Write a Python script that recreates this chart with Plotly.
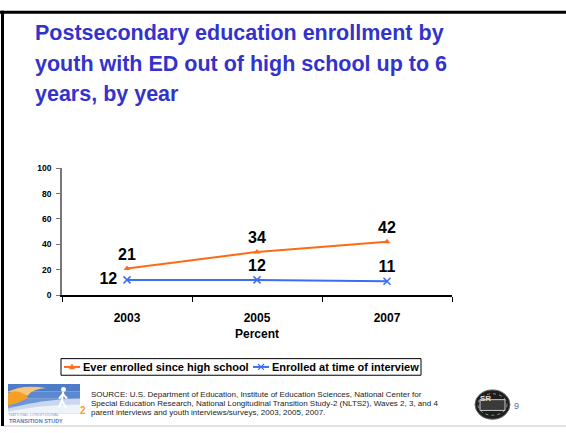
import plotly.graph_objects as go

# Chart data
years = ["2003", "2005", "2007"]
ever_enrolled = [21, 34, 42]
enrolled_now = [12, 12, 11]
y_ticks = [0, 20, 40, 60, 80, 100]
series_names = ["Ever enrolled since high school", "Enrolled at time of interview"]
title_lines = [
    "Postsecondary education enrollment by",
    "youth with ED out of high school up to 6",
    "years, by year",
]
source_lines = [
    "SOURCE: U.S. Department of Education, Institute of Education Sciences, National Center for",
    "Special Education Research, National Longitudinal Transition Study-2 (NLTS2), Waves 2, 3, and 4",
    "parent interviews and youth interviews/surveys, 2003, 2005, 2007.",
]

W, H = 566, 433
ORANGE = "#FF6A13"
BLUE = "#3D6DF2"
TITLE_BLUE = "#3333CC"
FONT = "Liberation Sans, Arial, sans-serif"


def px(x):
    return x / W


def py(y):
    return 1 - y / H


fig = go.Figure()

label_font = dict(size=16, color="black", family=FONT, weight="bold")

fig.add_trace(go.Scatter(
    x=years, y=ever_enrolled, name=series_names[0],
    mode="lines+markers+text", text=[str(v) for v in ever_enrolled],
    textposition="top center", textfont=label_font,
    line=dict(color=ORANGE, width=2),
    marker=dict(symbol="triangle-up", size=6, color=ORANGE),
    cliponaxis=False,
))
fig.add_trace(go.Scatter(
    x=years, y=enrolled_now, name=series_names[1],
    mode="lines+markers+text",
    text=[str(v) + " " for v in enrolled_now[:1]] + [str(v) for v in enrolled_now[1:]],
    textposition=["middle left", "top center", "top center"],
    textfont=label_font,
    line=dict(color=BLUE, width=2),
    marker=dict(symbol="x-thin", size=7, color=BLUE, line=dict(color=BLUE, width=1.5)),
    cliponaxis=False,
))

fig.update_layout(
    width=W, height=H,
    margin=dict(l=0, r=0, t=0, b=0),
    paper_bgcolor="white", plot_bgcolor="white",
    font=dict(family=FONT, color="black"),
    showlegend=False,
    xaxis=dict(
        domain=[px(62), px(452)], type="category", range=[-0.5, 2.5],
        showline=True, linecolor="black", linewidth=1.5,
        ticks="outside", tickson="boundaries", ticklen=5, tickcolor="black",
        ticklabelstandoff=11,
        tickfont=dict(size=12, family=FONT, weight="bold"),
        showgrid=False, zeroline=False,
        title=dict(text="Percent", font=dict(size=12, weight="bold"), standoff=5),
    ),
    yaxis=dict(
        domain=[py(297), py(167)], range=[0, 100],
        tickvals=y_ticks, showline=True, linecolor="#777777", linewidth=1.5,
        ticks="outside", ticklen=4, tickcolor="#777777",
        ticklabelstandoff=3,
        tickfont=dict(size=8.5, family=FONT, weight="bold"),
        showgrid=False, zeroline=False,
    ),
)

# Slide title, one annotation per line
for i, line in enumerate(title_lines):
    fig.add_annotation(
        x=px(33), y=py(29 + i * 31), xref="paper", yref="paper", xanchor="left", yanchor="middle",
        align="left", showarrow=False, text=line,
        font=dict(size=21.5, color=TITLE_BLUE, family=FONT, weight="bold"),
    )

shapes = []

# Legend box with line samples
LEG_Y = 370.5
shapes.append(dict(type="rect", xref="paper", yref="paper", x0=px(61), x1=px(421), y0=py(362), y1=py(379),
                   fillcolor="white", line=dict(color="black", width=1)))
for (x0, x1, color, name, tx, marker) in [
    (64, 80, ORANGE, series_names[0], 81, "tri"),
    (253, 269, BLUE, series_names[1], 270, "x"),
]:
    shapes.append(dict(type="line", xref="paper", yref="paper", x0=px(x0), x1=px(x1),
                       y0=py(LEG_Y), y1=py(LEG_Y), line=dict(color=color, width=2)))
    cx = (x0 + x1) / 2
    if marker == "tri":
        shapes.append(dict(type="path", xref="paper", yref="paper",
                           path=f"M {px(cx - 2.5)} {py(LEG_Y + 2)} L {px(cx + 2.5)} {py(LEG_Y + 2)} L {px(cx)} {py(LEG_Y - 3)} Z",
                           fillcolor=color, line=dict(color=color, width=0.5)))
    else:
        shapes.append(dict(type="path", xref="paper", yref="paper",
                           path=f"M {px(cx - 3)} {py(LEG_Y - 3)} L {px(cx + 3)} {py(LEG_Y + 3)} M {px(cx - 3)} {py(LEG_Y + 3)} L {px(cx + 3)} {py(LEG_Y - 3)}",
                           line=dict(color=color, width=1.2)))
    fig.add_annotation(x=px(tx), y=py(LEG_Y), xref="paper", yref="paper", xanchor="left", yanchor="middle",
                       showarrow=False, text=name,
                       font=dict(size=11, color="black", family=FONT, weight="bold"))

# Source note
for i, line in enumerate(source_lines):
    fig.add_annotation(
        x=px(89), y=py(398.5 + i * 9.5), xref="paper", yref="paper", xanchor="left", yanchor="middle",
        align="left", showarrow=False, text=line,
        font=dict(size=8, color="#222222", family=FONT),
    )

# Page number
fig.add_annotation(
    x=px(521), y=py(418), xref="paper", yref="paper", showarrow=False,
    text="9", font=dict(size=9, color="#5566AA", family=FONT),
)

# Slide frame: top and left rules, faint bottom rule
shapes.append(dict(type="line", xref="paper", yref="paper", x0=0, x1=1, y0=py(7.5), y1=py(7.5),
                   line=dict(color="black", width=3)))
shapes.append(dict(type="line", xref="paper", yref="paper", x0=px(2.5), x1=px(2.5), y0=py(6), y1=py(431),
                   line=dict(color="black", width=3)))
shapes.append(dict(type="line", xref="paper", yref="paper", x0=px(4), x1=1, y0=py(431), y1=py(431),
                   line=dict(color="#E2E2E2", width=2)))

# Left logo: sky banner with sun, hill and walking figure
LX0, LX1 = 8, 80
sky = ["#4E7CC8", "#5C88D0", "#6C95D6", "#7EA3DC"]
for i, c in enumerate(sky):
    shapes.append(dict(type="rect", xref="paper", yref="paper", x0=px(LX0), x1=px(LX1),
                       y0=py(388 + i * 7.5 + 7.5), y1=py(388 + i * 7.5),
                       fillcolor=c, line=dict(width=0)))
shapes.append(dict(type="path", xref="paper", yref="paper",
                   path=f"M {px(LX0)} {py(396)} Q {px(22)} {py(388)} {px(46)} {py(392)} Q {px(30)} {py(394)} {px(28)} {py(400)} Z",
                   fillcolor="#F8C57A", line=dict(width=0)))
shapes.append(dict(type="path", xref="paper", yref="paper",
                   path=f"M {px(LX0)} {py(410)} L {px(LX0)} {py(397)} Q {px(20)} {py(392)} {px(28)} {py(402)} Q {px(20)} {py(407)} {px(LX0)} {py(410)} Z",
                   fillcolor="#F3A024", line=dict(width=0)))
shapes.append(dict(type="path", xref="paper", yref="paper",
                   path=f"M {px(LX0)} {py(413)} Q {px(44)} {py(403)} {px(LX1)} {py(403)} L {px(LX1)} {py(418)} L {px(LX0)} {py(418)} Z",
                   fillcolor="#C9D8EF", line=dict(width=0)))
shapes.append(dict(type="path", xref="paper", yref="paper",
                   path=f"M {px(LX0)} {py(416)} Q {px(44)} {py(409)} {px(LX1)} {py(409)} L {px(LX1)} {py(418)} L {px(LX0)} {py(418)} Z",
                   fillcolor="#EEF3FA", line=dict(width=0)))
shapes.append(dict(type="circle", xref="paper", yref="paper", x0=px(61), x1=px(66), y0=py(396), y1=py(391),
                   fillcolor="white", line=dict(width=0)))
shapes.append(dict(type="path", xref="paper", yref="paper",
                   path=(f"M {px(63)} {py(396)} L {px(62)} {py(405)} L {px(59)} {py(412)} "
                         f"M {px(62)} {py(405)} L {px(66)} {py(412)} M {px(63)} {py(398)} L {px(67)} {py(403)} "
                         f"M {px(63)} {py(398)} L {px(59)} {py(403)}"),
                   line=dict(color="white", width=2)))
fig.add_annotation(x=px(8), y=py(423), xref="paper", yref="paper", xanchor="left", yanchor="middle",
                   showarrow=False, align="left", borderpad=0,
                   text=("<span style='font-size:4px;color:#8FA6CF'>NATIONAL LONGITUDINAL</span><br>"
                         "<b>TRANSITION STUDY</b>"),
                   font=dict(size=5.5, color="#4F7BC4", family=FONT))
fig.add_annotation(x=px(78), y=py(423), xref="paper", yref="paper", showarrow=False,
                   text="2", font=dict(size=10, color="#F3A024", family=FONT, weight="bold"))

# Right logo: dark seal
shapes.append(dict(type="circle", xref="paper", yref="paper", x0=px(475), x1=px(510), y0=py(424), y1=py(394),
                   fillcolor="#1E1E1E", line=dict(color="#666666", width=1)))
shapes.append(dict(type="circle", xref="paper", yref="paper", x0=px(478), x1=px(507), y0=py(420), y1=py(398),
                   fillcolor="rgba(0,0,0,0)", line=dict(color="#AAAAAA", width=0.8, dash="dot")))
shapes.append(dict(type="rect", xref="paper", yref="paper", x0=px(480), x1=px(505), y0=py(415), y1=py(404),
                   fillcolor="#3A3A3A", line=dict(color="#CCCCCC", width=1)))
fig.add_annotation(x=px(492.5), y=py(409.5), xref="paper", yref="paper", showarrow=False,
                   text="SR", font=dict(size=8, color="#DDDDDD", family=FONT, weight="bold"))

fig.update_layout(shapes=shapes)

fig.write_html("out.html")
